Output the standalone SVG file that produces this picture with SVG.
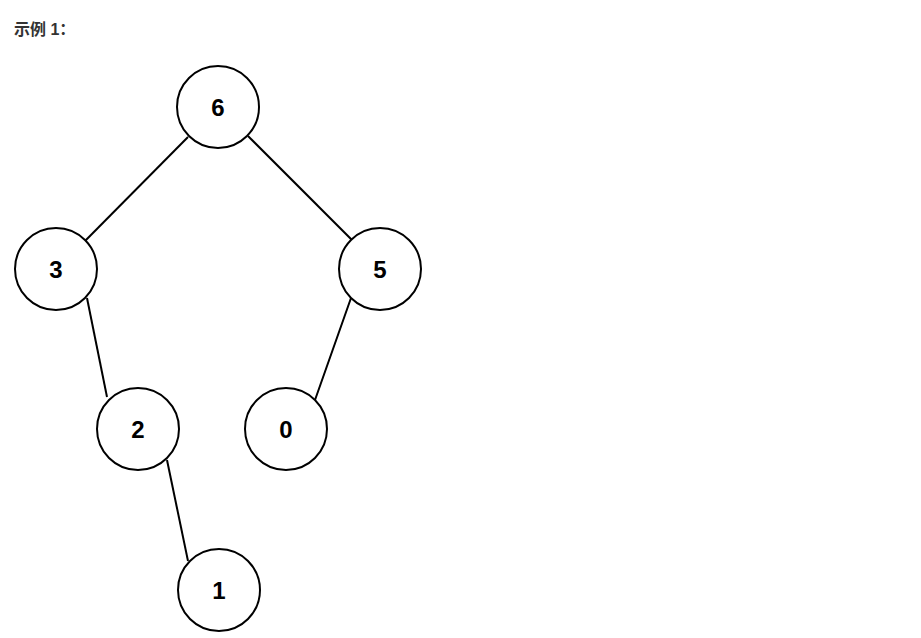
<svg xmlns="http://www.w3.org/2000/svg" width="921" height="638" viewBox="0 0 921 638">
<style>
.n circle{fill:#fff;stroke:#000;stroke-width:2}
.n text{font-family:"Liberation Sans",Arial,sans-serif;font-weight:bold;font-size:24px;fill:#000;text-anchor:middle}
.e line{stroke:#000;stroke-width:2}
.t{font-family:"Liberation Sans","Noto Sans CJK SC",sans-serif;font-weight:bold;font-size:16px;fill:#333}
</style>
<rect width="921" height="638" fill="#fff"/>
<text class="t" x="14" y="35">示例 1：</text>
<g id="edges" class="e">
<line x1="188" y1="137" x2="85" y2="241"/>
<line x1="248" y1="136" x2="352" y2="240"/>
<line x1="87" y1="298" x2="107" y2="397"/>
<line x1="351" y1="298" x2="315" y2="400"/>
<line x1="167" y1="460" x2="188" y2="561"/>
</g>
<g id="n6" class="n"><circle cx="218" cy="107" r="41"/><text x="218" y="116">6</text></g>
<g id="n3" class="n"><circle cx="56" cy="269" r="41"/><text x="56" y="278">3</text></g>
<g id="n5" class="n"><circle cx="380" cy="269" r="41"/><text x="380" y="278">5</text></g>
<g id="n2" class="n"><circle cx="138" cy="429" r="41"/><text x="138" y="438">2</text></g>
<g id="n0" class="n"><circle cx="286" cy="429" r="41"/><text x="286" y="438">0</text></g>
<g id="n1" class="n"><circle cx="219" cy="590" r="41"/><text x="219" y="599">1</text></g>
</svg>
